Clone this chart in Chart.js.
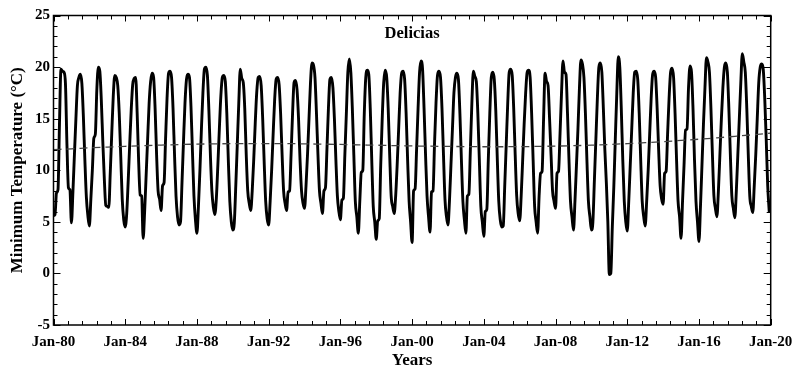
<!DOCTYPE html>
<html>
<head>
<meta charset="utf-8">
<script src="https://cdn.jsdelivr.net/npm/chart.js@4.4.1/dist/chart.umd.min.js"></script>
<style>
  html, body { margin: 0; padding: 0; background: #fff; }
  #wrap { width: 795px; height: 373px; }
</style>
</head>
<body>
<div id="wrap"><canvas id="c" width="795" height="373"></canvas></div>
<script>
// Station shown in the panel
const stationName = 'Delicias';

// Axis tick labels (every 4 years, months counted from Jan-1980)
const xTickLabels = ['Jan-80', 'Jan-84', 'Jan-88', 'Jan-92', 'Jan-96', 'Jan-00', 'Jan-04', 'Jan-08', 'Jan-12', 'Jan-16', 'Jan-20'];
const yTickValues = [-5, 0, 5, 10, 15, 20, 25];

// Monthly mean minimum temperature (°C), Jan..Dec of each year
const tmin1980s = [
  5.6, 5.7, 7.8, 8.1, 14.5, 19.8, 19.6, 19.5, 18.4, 12.5, 8.3, 8.1,
  4.9, 7.9, 11.5, 15.0, 18.2, 19.0, 19.3, 18.4, 15.2, 11.0, 7.4, 5.6,
  4.6, 7.2, 10.0, 13.1, 13.5, 17.8, 20.0, 19.6, 16.8, 12.8, 9.2, 6.6,
  6.5, 6.4, 9.8, 13.6, 17.2, 19.2, 19.0, 18.2, 15.5, 11.4, 7.2, 5.2,
  4.5, 5.8, 9.0, 12.5, 15.8, 18.3, 18.9, 19.0, 15.5, 10.8, 7.6, 7.5,
  3.4, 6.0, 9.5, 13.0, 16.5, 18.6, 19.4, 19.0, 16.0, 11.5, 8.0, 7.2,
  6.1, 8.5, 8.8, 13.0, 17.0, 19.4, 19.6, 19.0, 16.0, 11.5, 7.5, 5.5,
  4.7, 5.0, 8.8, 12.8, 16.5, 18.8, 19.3, 19.0, 16.2, 11.8, 7.5, 5.2,
  3.9, 6.5, 10.0, 14.0, 17.5, 19.8, 20.0, 19.2, 15.8, 11.5, 8.0, 6.4,
  5.7, 7.3, 10.5, 14.0, 17.2, 19.0, 19.2, 18.6, 15.5, 11.0, 7.0, 5.0
];
const tmin1990s = [
  4.2, 4.9, 8.5, 12.5, 16.5, 19.8, 18.9, 18.5, 16.0, 11.5, 8.0, 6.8,
  6.1, 8.0, 11.0, 14.5, 17.5, 19.0, 19.1, 18.2, 15.0, 10.8, 7.0, 5.3,
  4.7, 7.0, 10.0, 13.5, 16.8, 18.8, 19.0, 18.3, 15.5, 11.5, 8.0, 6.8,
  6.1, 7.9, 8.0, 11.5, 15.5, 18.5, 18.7, 17.8, 15.0, 11.0, 8.0, 6.8,
  6.3, 8.5, 11.5, 15.0, 18.5, 20.4, 20.2, 19.0, 15.5, 11.5, 8.0, 6.8,
  5.8, 8.0, 8.3, 12.0, 16.0, 18.8, 19.0, 18.0, 15.0, 11.0, 7.5, 6.0,
  5.2, 7.1, 7.3, 11.5, 15.5, 19.5, 20.8, 19.5, 16.0, 11.5, 7.0, 5.5,
  3.9, 7.0, 9.8, 10.0, 15.5, 19.0, 19.7, 19.3, 16.0, 11.0, 6.5, 5.0,
  3.3, 5.1, 5.3, 10.5, 15.0, 18.5, 19.7, 19.0, 16.0, 11.5, 7.5, 6.5,
  5.8, 7.5, 10.5, 14.0, 17.5, 19.4, 19.6, 18.8, 15.5, 11.0, 7.0, 5.0
];
const tmin2000s = [
  3.0, 8.0, 8.2, 12.0, 16.0, 19.5, 20.6, 19.8, 16.0, 11.5, 7.5, 5.5,
  4.0, 7.9, 8.0, 12.5, 16.5, 19.2, 19.6, 19.0, 16.0, 11.5, 7.2, 5.5,
  4.7, 7.0, 10.5, 14.0, 17.5, 19.0, 19.4, 18.8, 15.5, 11.0, 7.0, 5.2,
  3.9, 7.5, 7.7, 12.0, 16.5, 19.6, 19.1, 18.6, 15.5, 11.0, 6.5, 5.0,
  3.6, 6.0, 6.2, 11.0, 15.5, 19.0, 19.5, 18.8, 15.8, 11.2, 7.0, 5.2,
  4.5, 4.6, 8.5, 12.5, 16.5, 19.5, 19.8, 19.2, 16.0, 11.5, 7.5, 5.8,
  5.1, 7.5, 11.0, 14.5, 17.5, 19.5, 19.7, 19.0, 15.5, 11.0, 6.5, 5.0,
  3.9, 7.5, 9.7, 9.9, 15.0, 19.4, 18.6, 18.2, 15.0, 11.5, 8.0, 7.0,
  6.3, 9.7, 9.9, 13.5, 17.5, 20.6, 19.5, 19.3, 15.5, 11.0, 7.0, 5.5,
  4.2, 7.0, 10.5, 14.0, 18.0, 20.7, 20.3, 19.0, 15.5, 11.0, 7.0, 5.5
];
const tmin2010s = [
  4.2, 5.0, 9.0, 13.0, 17.0, 20.0, 20.4, 19.5, 16.0, 12.0, 8.8, 5.0,
  -0.1, 0.0, 4.5, 8.4, 13.0, 17.5, 21.0, 20.0, 16.0, 11.0, 7.0, 5.0,
  4.1, 7.0, 10.5, 14.0, 17.5, 19.5, 19.6, 18.8, 15.5, 11.0, 7.0, 5.5,
  4.6, 7.0, 10.0, 13.5, 17.0, 19.3, 19.6, 19.0, 16.0, 12.0, 8.5, 7.2,
  6.7, 9.7, 9.9, 13.5, 17.0, 19.5, 19.9, 19.0, 15.5, 11.0, 7.0, 5.5,
  3.4, 7.0, 10.5, 13.9, 14.0, 18.0, 20.1, 19.5, 16.0, 11.0, 7.0, 5.0,
  3.1, 6.5, 10.5, 14.5, 18.0, 20.9, 20.5, 19.5, 16.0, 11.5, 7.5, 6.3,
  5.5, 8.0, 11.5, 15.0, 18.0, 20.0, 20.4, 19.5, 16.0, 11.5, 7.5, 6.3,
  5.4, 8.0, 11.5, 15.0, 18.5, 21.3, 20.5, 19.5, 16.0, 11.5, 7.5, 6.5,
  5.9, 8.5, 11.5, 15.0, 18.5, 20.0, 20.3, 19.8, 17.0, 13.0, 8.5, 6.0
];

// Fitted long-term trend, value at each January 1980..2020
const trendByYear = [
  12.00, 12.08, 12.17, 12.25, 12.32, 12.38, 12.44, 12.49, 12.53, 12.56,
  12.58, 12.59, 12.59, 12.58, 12.56, 12.53, 12.50, 12.46, 12.43, 12.39,
  12.36, 12.33, 12.31, 12.29, 12.28, 12.28, 12.29, 12.31, 12.34, 12.38,
  12.43, 12.50, 12.58, 12.67, 12.77, 12.89, 13.01, 13.14, 13.29, 13.44,
  13.60
];

const tmin = [...tmin1980s, ...tmin1990s, ...tmin2000s, ...tmin2010s];
const monthlyPoints = tmin.map((v, i) => ({ x: i, y: v }));
const trendPoints = trendByYear.map((v, i) => ({ x: i * 12, y: v }));

const serif = '"Liberation Serif", "Times New Roman", serif';

// Closed frame with inward tick marks on all four sides, plus the panel name
const frameTicks = {
  id: 'frameTicks',
  afterDatasetsDraw(chart) {
    const { ctx, chartArea: a, scales: { x, y } } = chart;
    ctx.save();
    ctx.strokeStyle = '#000';
    ctx.lineWidth = 1.5;
    ctx.strokeRect(a.left, a.top, a.right - a.left, a.bottom - a.top);
    ctx.lineWidth = 1;
    ctx.beginPath();
    // minor ticks every 0.8 year, major every 4 years
    for (let k = 0; k <= 50; k++) {
      const px = Math.round(x.getPixelForValue(k * 9.6)) + 0.5;
      const len = k % 5 === 0 ? 6 : 4;
      ctx.moveTo(px, a.bottom); ctx.lineTo(px, a.bottom - len);
      ctx.moveTo(px, a.top); ctx.lineTo(px, a.top + len);
    }
    for (let v = -5; v <= 25; v++) {
      const py = Math.round(y.getPixelForValue(v)) + 0.5;
      const len = v % 5 === 0 ? 7 : 4;
      ctx.moveTo(a.left, py); ctx.lineTo(a.left + len, py);
      ctx.moveTo(a.right, py); ctx.lineTo(a.right - len, py);
    }
    ctx.stroke();
    ctx.font = 'bold 16.5px ' + serif;
    ctx.fillStyle = '#000';
    ctx.textAlign = 'center';
    ctx.textBaseline = 'middle';
    ctx.fillText(stationName, (a.left + a.right) / 2, 34);
    ctx.restore();
  }
};

new Chart(document.getElementById('c'), {
  type: 'line',
  data: {
    datasets: [
      {
        label: 'Trend',
        data: trendPoints,
        borderColor: '#444',
        borderWidth: 1.3,
        borderDash: [8, 5],
        pointRadius: 0,
        cubicInterpolationMode: 'monotone',
        fill: false
      },
      {
        label: stationName,
        data: monthlyPoints,
        borderColor: '#000',
        borderWidth: 2.9,
        borderJoinStyle: 'round',
        borderCapStyle: 'round',
        pointRadius: 0,
        cubicInterpolationMode: 'monotone',
        fill: false
      }
    ]
  },
  options: {
    responsive: false,
    animation: false,
    devicePixelRatio: 1,
    layout: { padding: { top: 15.5, right: 24.3, left: 0, bottom: 0 } },
    plugins: { legend: { display: false }, tooltip: { enabled: false } },
    scales: {
      x: {
        type: 'linear',
        min: 0,
        max: 480,
        afterBuildTicks: s => { s.ticks = xTickLabels.map((_, i) => ({ value: i * 48 })); },
        afterFit: s => { s.height = 48; s.paddingLeft = 0; s.paddingRight = 0; },
        grid: { display: false, drawTicks: false },
        border: { display: false },
        ticks: {
          autoSkip: false,
          maxRotation: 0,
          padding: 8,
          color: '#000',
          font: { family: serif, size: 15, weight: 'bold' },
          callback: v => xTickLabels[Math.round(v / 48)]
        },
        title: {
          display: true,
          text: 'Years',
          color: '#000',
          font: { family: serif, size: 17, weight: 'bold' },
          padding: { top: 0, bottom: 1.8 }
        }
      },
      y: {
        min: -5,
        max: 25,
        afterBuildTicks: s => { s.ticks = yTickValues.map(v => ({ value: v })); },
        afterFit: s => { s.width = 53.5; s.paddingTop = 0; s.paddingBottom = 0; },
        grid: { display: false, drawTicks: false },
        border: { display: false },
        ticks: {
          padding: 3.5,
          color: '#000',
          font: { family: serif, size: 15, weight: 'bold' }
        },
        title: {
          display: true,
          text: 'Minimum Temperature (°C)',
          color: '#000',
          font: { family: serif, size: 17, weight: 'bold' },
          padding: { top: 7.8, bottom: 0 }
        }
      }
    }
  },
  plugins: [frameTicks]
});
</script>
</body>
</html>
